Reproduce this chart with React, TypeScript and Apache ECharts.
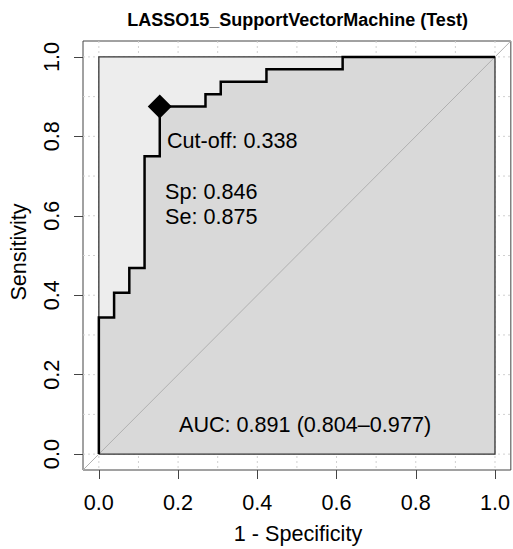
import React, { useEffect, useRef } from "react";
import * as echarts from "echarts";

// ROC curve vertices (1 - specificity, sensitivity)
const fpr = [0, 0, 0.0385, 0.0385, 0.0769, 0.0769, 0.1154, 0.1154, 0.1538, 0.1538, 0.2692, 0.2692, 0.3077, 0.3077, 0.4231, 0.4231, 0.6154, 0.6154, 1];
const tpr = [0, 0.34375, 0.34375, 0.40625, 0.40625, 0.46875, 0.46875, 0.75, 0.75, 0.875, 0.875, 0.90625, 0.90625, 0.9375, 0.9375, 0.96875, 0.96875, 1, 1];
const cutoffPoint = [0.1538, 0.875];
const tickValues = [0, 0.2, 0.4, 0.6, 0.8, 1];
const gridValues = [0, 0.1, 0.2, 0.3, 0.4, 0.5, 0.6, 0.7, 0.8, 0.9, 1];
const plotRange = [0, 1];
const axisRange = [-0.04, 1.04];

const titleText = "LASSO15_SupportVectorMachine (Test)";
const cutoffText = "Cut-off: 0.338";
const spText = "Sp: 0.846";
const seText = "Se: 0.875";
const aucText = "AUC: 0.891 (0.804\u20130.977)";
const xName = "1 - Specificity";
const yName = "Sensitivity";

const FONT = "'Liberation Sans', Arial, sans-serif";
const FS = 21.6;

export default function App() {
  const ref = useRef<HTMLDivElement>(null);
  useEffect(() => {
    if (!ref.current) return;
    const chart = echarts.init(ref.current, null, { renderer: "svg" });
    const rocData = fpr.map((x, i) => [x, tpr[i]]);
    const axisCommon = {
      type: "value",
      min: axisRange[0],
      max: axisRange[1],
      axisLine: { show: false, onZero: false },
      splitLine: { show: false },
      axisTick: {
        show: true,
        customValues: tickValues,
        length: 9,
        lineStyle: { color: "#444", width: 1 },
      },
      axisLabel: {
        customValues: tickValues,
        formatter: (v: number) => v.toFixed(1),
        fontSize: FS,
        color: "#000",
        fontFamily: FONT,
      },
    };
    const option: any = {
      animation: false,
      backgroundColor: "#fff",
      grid: {
        left: 83,
        top: 41,
        width: 429,
        height: 429,
        show: true,
        borderColor: "#444",
        borderWidth: 1,
        backgroundColor: "#fff",
      },
      xAxis: { ...axisCommon, axisLabel: { ...axisCommon.axisLabel, margin: 21 } },
      yAxis: { ...axisCommon, axisLabel: { ...axisCommon.axisLabel, rotate: 90, margin: 21 } },
      series: [
        {
          type: "custom",
          silent: true,
          z: 1,
          data: gridValues.map((v) => [v, v]),
          encode: { x: 0, y: 1 },
          clip: false,
          renderItem: (params: any, api: any) => {
            const cs = params.coordSys;
            const p = api.coord([api.value(0), api.value(1)]);
            const st = { stroke: "#d0d0d0", lineWidth: 1, lineDash: [2, 3] };
            return {
              type: "group",
              children: [
                { type: "line", shape: { x1: p[0], y1: cs.y, x2: p[0], y2: cs.y + cs.height }, style: st },
                { type: "line", shape: { x1: cs.x, y1: p[1], x2: cs.x + cs.width, y2: p[1] }, style: st },
              ],
            };
          },
        },
        {
          type: "custom",
          silent: true,
          z: 2,
          data: [[plotRange[0], plotRange[0], plotRange[1], plotRange[1]]],
          encode: { x: [0, 2], y: [1, 3] },
          renderItem: (params: any, api: any) => {
            const a = api.coord([api.value(0), api.value(3)]);
            const b = api.coord([api.value(2), api.value(1)]);
            return {
              type: "rect",
              shape: { x: a[0], y: a[1], width: b[0] - a[0], height: b[1] - a[1] },
              style: { fill: "#ededed", stroke: "none" },
            };
          },
        },
        {
          type: "custom",
          silent: true,
          z: 3,
          data: rocData,
          encode: { x: 0, y: 1 },
          renderItem: (params: any, api: any) => {
            if (params.dataIndex !== 0) return null;
            const pts = rocData.map((d) => api.coord(d));
            pts.push(api.coord([plotRange[1], plotRange[0]]));
            pts.push(api.coord([plotRange[0], plotRange[0]]));
            return {
              type: "polygon",
              shape: { points: pts },
              style: { fill: "#d9d9d9", stroke: "none" },
            };
          },
        },
        {
          type: "custom",
          silent: true,
          z: 4,
          data: [[plotRange[0], plotRange[0], plotRange[1], plotRange[1]]],
          encode: { x: [0, 2], y: [1, 3] },
          renderItem: (params: any, api: any) => {
            const a = api.coord([api.value(0), api.value(3)]);
            const b = api.coord([api.value(2), api.value(1)]);
            return {
              type: "rect",
              shape: { x: a[0], y: a[1], width: b[0] - a[0], height: b[1] - a[1] },
              style: { fill: "none", stroke: "#333", lineWidth: 1.3 },
            };
          },
        },
        {
          type: "line",
          silent: true,
          z: 5,
          symbol: "none",
          data: [[axisRange[0], axisRange[0]], [axisRange[1], axisRange[1]]],
          lineStyle: { color: "#b0b0b0", width: 1 },
        },
        {
          type: "line",
          silent: true,
          z: 6,
          symbol: "none",
          data: rocData,
          lineStyle: { color: "#000", width: 2.5, join: "miter" },
        },
        {
          type: "scatter",
          silent: true,
          z: 7,
          symbol: "diamond",
          symbolSize: 24,
          data: [cutoffPoint],
          itemStyle: { color: "#000", opacity: 1 },
        },
      ],
      graphic: [
        { type: "text", x: 297.5, y: 20, style: { text: titleText, font: `bold 18px ${FONT}`, fill: "#000", align: "center", verticalAlign: "middle" } },
        { type: "text", x: 167, y: 140, z: 100, style: { text: cutoffText, font: `${FS}px ${FONT}`, fill: "#000", align: "left", verticalAlign: "middle" } },
        { type: "text", x: 165, y: 191, z: 100, style: { text: spText, font: `${FS}px ${FONT}`, fill: "#000", align: "left", verticalAlign: "middle" } },
        { type: "text", x: 165, y: 216, z: 100, style: { text: seText, font: `${FS}px ${FONT}`, fill: "#000", align: "left", verticalAlign: "middle" } },
        { type: "text", x: 179, y: 424, z: 100, style: { text: aucText, font: `${FS}px ${FONT}`, fill: "#000", align: "left", verticalAlign: "middle" } },
        { type: "text", x: 298, y: 533, style: { text: xName, font: `${FS}px ${FONT}`, fill: "#000", align: "center", verticalAlign: "middle" } },
        { type: "text", x: 18, y: 252, rotation: Math.PI / 2, style: { text: yName, font: `${FS}px ${FONT}`, fill: "#000", align: "center", verticalAlign: "middle" } },
      ],
    };
    chart.setOption(option);
    return () => chart.dispose();
  }, []);
  return <div ref={ref} style={{ position: "fixed", left: 0, top: 0, width: 513, height: 549 }} />;
}
